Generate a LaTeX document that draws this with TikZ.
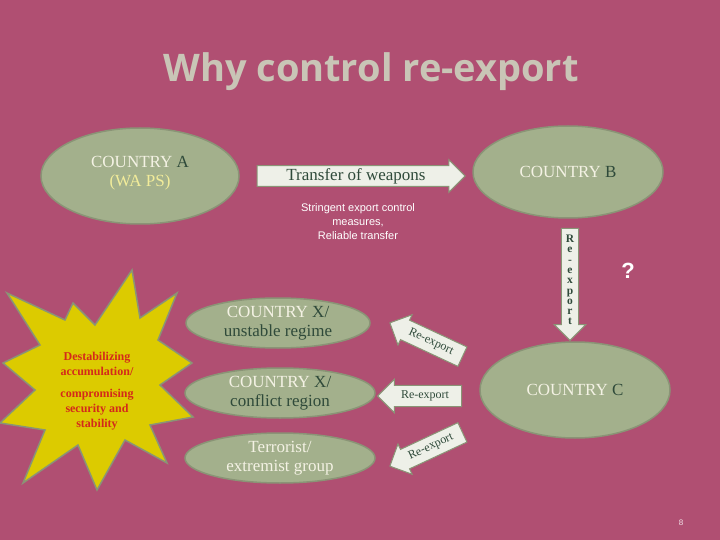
\documentclass[tikz,border=0pt]{standalone}
\usepackage{fontspec}
\setmainfont{Liberation Serif}
\newfontfamily\titlefont{Open Sans}
\newfontfamily\arialf{Liberation Sans}
\usetikzlibrary{shapes.arrows,shapes.misc,shapes.geometric}
\definecolor{bg}{HTML}{B04F72}
\definecolor{ellf}{HTML}{A3B08C}
\definecolor{elld}{HTML}{8A9476}
\definecolor{arrf}{HTML}{EEF0E8}
\definecolor{dkg}{HTML}{2F4A3A}
\definecolor{crm}{HTML}{F4F2E4}
\definecolor{ylw}{HTML}{F2EC9A}
\definecolor{starf}{HTML}{DCCB00}
\definecolor{redt}{HTML}{D42A1A}
\definecolor{ttl}{HTML}{C9C5B6}
\begin{document}
\begin{tikzpicture}[x=1pt,y=-1pt,
  ell/.style={ellipse,fill=ellf,draw=elld,line width=1.5pt,inner sep=0pt},
  arr/.style={single arrow,fill=arrf,draw=elld,line width=1pt,text=dkg,font=\fontsize{12}{12}\selectfont,single arrow head extend=6pt,inner xsep=3pt,inner ysep=5pt},
  lbl/.style={font=\fontsize{17}{19}\selectfont,align=center}]
\fill[bg] (0,0) rectangle (720,540);
\useasboundingbox (0,0) rectangle (720,540);
\node (title) [text=ttl,font=\titlefont\bfseries\fontsize{38}{40}\selectfont] at (371,72) {Why control re-export};
\node (a) [ell,minimum width=198pt,minimum height=96pt] at (140,176) {};
\node[lbl] at (140,173) {\textcolor{crm}{COUNTRY} \textcolor{dkg}{A}\\\textcolor{ylw}{(WA PS)}};
\node (b) [ell,minimum width=190pt,minimum height=92pt] at (568,172) {};
\node[lbl] at (568,172) {\textcolor{crm}{COUNTRY} \textcolor{dkg}{B}};
\node (tw) [arr,minimum height=208pt,font=\fontsize{17}{17}\selectfont,single arrow head extend=6pt,inner ysep=2pt] at (356,176) {Transfer of weapons};
\node (sm) [text=white,font=\arialf\fontsize{11}{14}\selectfont,align=center] at (358,222) {Stringent export control\\measures,\\Reliable transfer};
\node (vr) [arr,shape border rotate=270,minimum height=112pt,font=\fontsize{11.5}{10.3}\selectfont\bfseries,align=center,inner xsep=4pt,inner ysep=2pt,single arrow head extend=7pt] at (570,280) {R\\e\\-\\e\\x\\p\\o\\r\\t};
\node (q) [text=white,font=\arialf\bfseries\fontsize{22}{22}\selectfont] at (628,271) {?};
\draw[fill=starf,draw=elld,line width=1.5pt] (132,270) -- (140,318) -- (177,293) -- (158,340) -- (192,363) -- (160,385) -- (193,417) -- (150,425) -- (167,463) -- (125,440) -- (97,490) -- (78,445) -- (23,483) -- (45,430) -- (0,423) -- (35,390) -- (3,363) -- (40,345) -- (7,293) -- (65,320) -- (73,303) -- (95,325) -- cycle;
\node (stt) [text=redt,font=\bfseries\fontsize{12}{15}\selectfont,align=center] at (97,364) {Destabilizing\\accumulation/};
\node (stt2) [text=redt,font=\bfseries\fontsize{12}{15}\selectfont,align=center] at (97,410) {compromising\\security and\\stability};
\node (x1) [ell,minimum width=184pt,minimum height=50pt] at (278,323) {};
\node[lbl] at (278,323) {\textcolor{crm}{COUNTRY} \textcolor{dkg}{X/}\\\textcolor{dkg}{unstable regime}};
\node (x2) [ell,minimum width=190pt,minimum height=50pt] at (280,393) {};
\node[lbl] at (280,393) {\textcolor{crm}{COUNTRY} \textcolor{dkg}{X/}\\\textcolor{dkg}{conflict region}};
\node (tg) [ell,minimum width=190pt,minimum height=50pt] at (280,458) {};
\node[lbl] at (280,458) {\textcolor{crm}{Terrorist/}\\\textcolor{crm}{extremist group}};
\node (c) [ell,minimum width=190pt,minimum height=96pt] at (575,390) {};
\node[lbl] at (575,390) {\textcolor{crm}{COUNTRY} \textcolor{dkg}{C}};
\node (r1) [arr,shape border rotate=180,rotate=-25,minimum height=80pt] at (431,342) {Re-export};
\node (r2) [arr,shape border rotate=180,minimum height=84pt] at (425,396) {Re-export};
\node (r3) [arr,shape border rotate=180,rotate=25,minimum height=80pt] at (431,447) {Re-export};
\node (pg) [text=white!85!bg,font=\arialf\fontsize{8}{8}\selectfont] at (681,523) {8};
\end{tikzpicture}
\end{document}
